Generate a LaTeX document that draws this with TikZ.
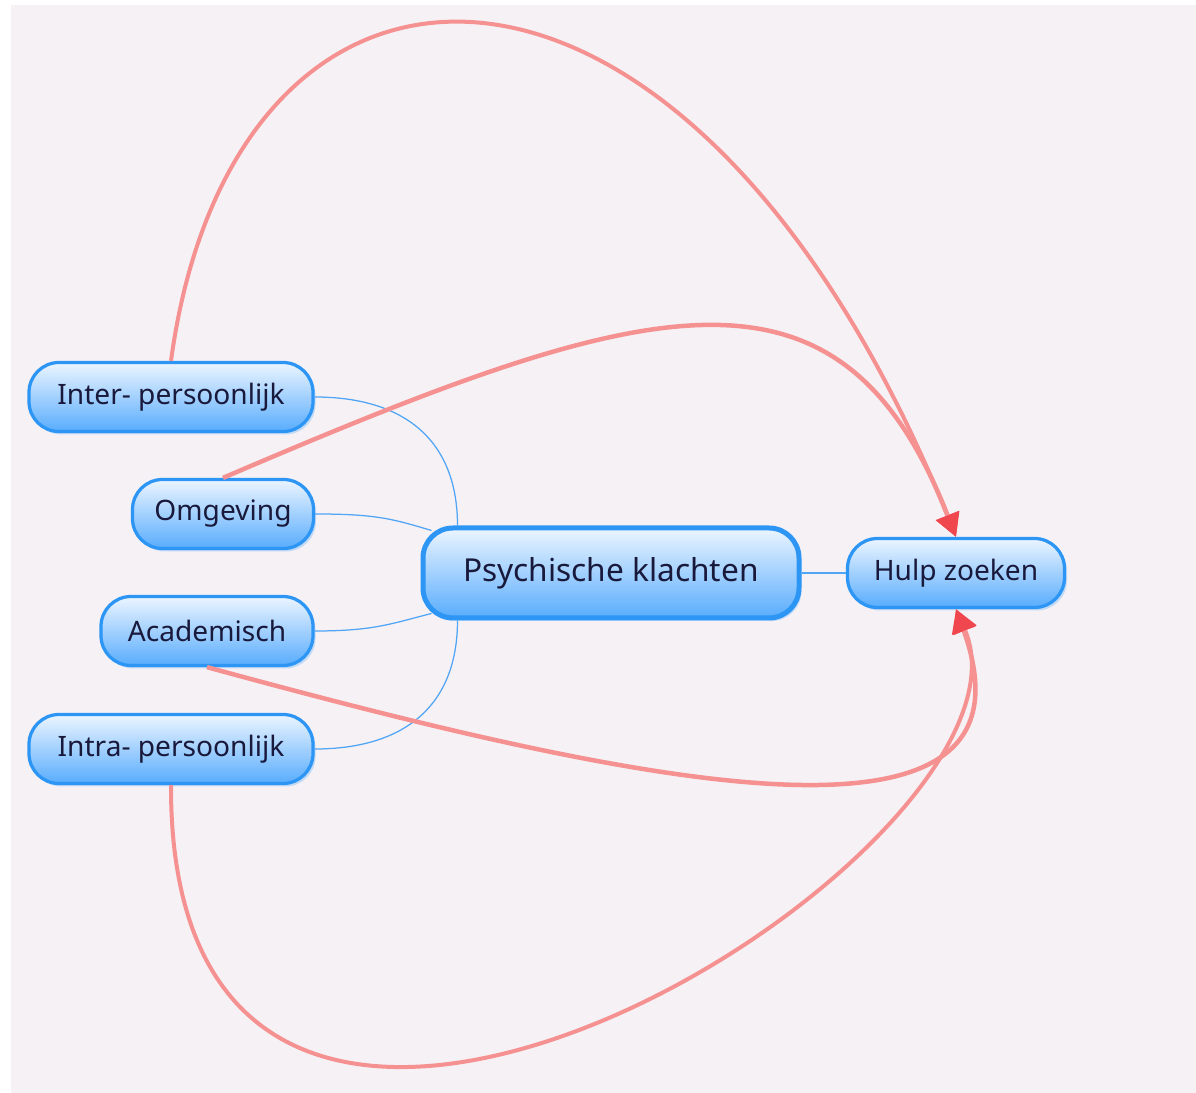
\documentclass[tikz,border=0pt]{standalone}
\usepackage{fontspec}
\setmainfont{Noto Sans}
\usepackage{tikz}
\usetikzlibrary{arrows.meta,calc,shadows}
\definecolor{pkBlue}{RGB}{45,150,245}
\definecolor{pkTop}{RGB}{236,245,255}
\definecolor{pkBottom}{RGB}{88,172,253}
\definecolor{pkLink}{RGB}{80,165,245}
\definecolor{pkRed}{RGB}{245,145,145}
\definecolor{pkArrow}{RGB}{240,70,78}
\definecolor{pkText}{RGB}{25,25,60}
\definecolor{pkBack}{RGB}{246,241,245}
\tikzset{
    base/.style={font=\fontsize{16pt}{19pt}\selectfont, text=pkText, align=center},
    topic/.style={base, rectangle, rounded corners=6mm, draw=pkBlue, line width=0.65mm,
                  top color=pkTop, bottom color=pkBottom, inner sep=0pt,
                  minimum height=13.8mm,
                  drop shadow={opacity=0.25, shadow xshift=0.5mm, shadow yshift=-0.6mm, fill=pkBlue}},
    central/.style={topic, line width=1mm, minimum height=18mm,
                    font=\fontsize{18pt}{22pt}\selectfont},
    link/.style={pkLink, line width=0.25mm},
    relation/.style={pkRed, line width=0.8mm,
                     -{Triangle[length=4.6mm, width=4.8mm, color=pkArrow]}}
}

\begin{document}
\begin{tikzpicture}[x=0.2mm, y=-0.2mm]
  % Canvas
  \useasboundingbox (0,0) rectangle (1196,1093);
  \fill[white] (0,0) rectangle (1196,1093);
  \fill[pkBack] (11,5) rectangle (1196,1093);

  % Topics
  \node[topic, minimum width=56.8mm] (inter) at (171,397) {Inter- persoonlijk};
  \node[topic, minimum width=36.2mm] (omgeving) at (223,514) {Omgeving};
  \node[topic, minimum width=42.4mm] (academisch) at (207,631) {Academisch};
  \node[topic, minimum width=56.8mm] (intra) at (171,749) {Intra- persoonlijk};
  \node[central, minimum width=75.2mm] (psych) at (611,573) {Psychische klachten};
  \node[topic, minimum width=43.4mm] (hulp) at (956,573) {Hulp zoeken};

  % Branches
  \draw[link] (inter.east) .. controls +(90,0) and +(0,-85) .. ($(psych.north west)+(37,0)$);
  \draw[link] (omgeving.east) .. controls +(60,0) and +(-40,-12) .. ($(psych.north west)+(11,5)$);
  \draw[link] (academisch.east) .. controls +(60,0) and +(-40,10) .. ($(psych.south west)+(11,-7)$);
  \draw[link] (intra.east) .. controls +(90,0) and +(0,85) .. ($(psych.south west)+(37,0)$);
  \draw[link] (psych.east) -- (hulp.west);

  % Relations to help seeking
  \draw[relation] (inter.north) .. controls (235,-110) and (690,-120) .. (hulp.north);
  \draw[relation, line width=0.9mm] (omgeving.north) .. controls (650,295) and (840,240) .. (hulp.north);
  \draw[relation, line width=0.9mm] (academisch.south) .. controls (656,790) and (1050,870) .. (hulp.south);
  \draw[relation] (intra.south) .. controls (169,1400) and (1060,850) .. (hulp.south);
\end{tikzpicture}
\end{document}
